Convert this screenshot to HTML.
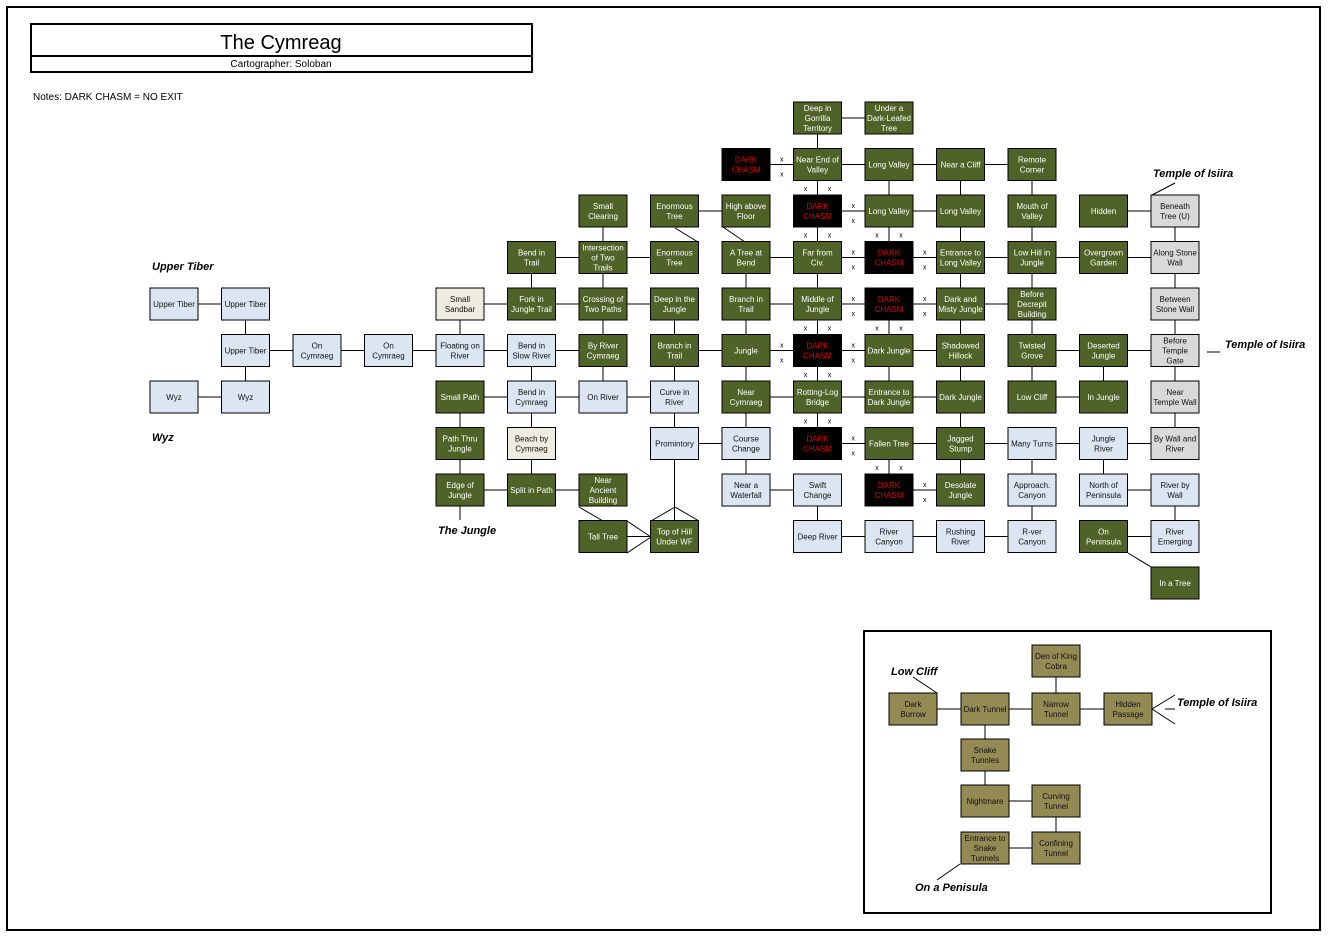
<!DOCTYPE html>
<html><head><meta charset="utf-8"><style>
html,body{margin:0;padding:0;background:#fff;}
svg{display:block;}
text{font-family:"Liberation Sans",Arial,sans-serif;}
.n text{font-size:8px;text-anchor:middle;}
.g rect{fill:#4f6228;stroke:#000;stroke-width:1}
.g text{fill:#fff}
.b rect{fill:#dce6f2;stroke:#000;stroke-width:1}
.b text{fill:#111}
.e rect{fill:#eeece1;stroke:#000;stroke-width:1}
.e text{fill:#111}
.s rect{fill:#d9d9d9;stroke:#000;stroke-width:1}
.s text{fill:#111}
.k rect{fill:#948a54;stroke:#000;stroke-width:1}
.k text{fill:#111}
.d rect{fill:#000;stroke:#000}
.d text{fill:#e00000}
.x{font-size:7px;text-anchor:middle;fill:#000}
.lab{font-size:11px;font-style:italic;font-weight:bold;fill:#000}
line{stroke:#000;stroke-width:1}
</style></head><body>
<svg width="1330" height="947" viewBox="0 0 1330 947" xmlns="http://www.w3.org/2000/svg">
<rect x="7" y="7" width="1313" height="923" fill="none" stroke="#000" stroke-width="2"/>
<rect x="31" y="24" width="501" height="48" fill="none" stroke="#000" stroke-width="2"/>
<line x1="31" y1="56" x2="532" y2="56" style="stroke-width:2"/>
<text x="281" y="49" font-size="20" text-anchor="middle">The Cymreag</text>
<text x="281" y="67" font-size="10" text-anchor="middle">Cartographer: Soloban</text>
<text x="33" y="100" font-size="10">Notes: DARK CHASM = NO EXIT</text>

<!-- edges -->
<g>
<line x1="817.5" y1="118" x2="889" y2="118"/>
<line x1="746" y1="164.5" x2="1032" y2="164.5"/>
<line x1="674.5" y1="211" x2="746" y2="211"/>
<line x1="817.5" y1="211" x2="960.5" y2="211"/>
<line x1="1103.5" y1="211" x2="1175" y2="211"/>
<line x1="531.5" y1="257.5" x2="674.5" y2="257.5"/>
<line x1="746" y1="257.5" x2="1175" y2="257.5"/>
<line x1="174" y1="304" x2="245.5" y2="304"/>
<line x1="460" y1="304" x2="674.5" y2="304"/>
<line x1="746" y1="304" x2="1032" y2="304"/>
<line x1="245.5" y1="350.5" x2="603" y2="350.5"/>
<line x1="674.5" y1="350.5" x2="960.5" y2="350.5"/>
<line x1="1032" y1="350.5" x2="1175" y2="350.5"/>
<line x1="174" y1="397" x2="245.5" y2="397"/>
<line x1="460" y1="397" x2="674.5" y2="397"/>
<line x1="746" y1="397" x2="960.5" y2="397"/>
<line x1="1032" y1="397" x2="1103.5" y2="397"/>
<line x1="674.5" y1="443.5" x2="746" y2="443.5"/>
<line x1="817.5" y1="443.5" x2="1175" y2="443.5"/>
<line x1="460" y1="490" x2="603" y2="490"/>
<line x1="746" y1="490" x2="817.5" y2="490"/>
<line x1="889" y1="490" x2="960.5" y2="490"/>
<line x1="1103.5" y1="490" x2="1175" y2="490"/>
<line x1="603" y1="536.5" x2="674.5" y2="536.5"/>
<line x1="817.5" y1="536.5" x2="1032" y2="536.5"/>
<line x1="1103.5" y1="536.5" x2="1175" y2="536.5"/>

<line x1="245.5" y1="304" x2="245.5" y2="397"/>
<line x1="460" y1="304" x2="460" y2="350.5"/>
<line x1="460" y1="397" x2="460" y2="520"/>
<line x1="531.5" y1="257.5" x2="531.5" y2="304"/>
<line x1="531.5" y1="350.5" x2="531.5" y2="490"/>
<line x1="603" y1="211" x2="603" y2="397"/>
<line x1="674.5" y1="304" x2="674.5" y2="536.5"/>
<line x1="746" y1="257.5" x2="746" y2="490"/>
<line x1="817.5" y1="118" x2="817.5" y2="443.5"/>
<line x1="817.5" y1="490" x2="817.5" y2="536.5"/>
<line x1="889" y1="164.5" x2="889" y2="257.5"/>
<line x1="889" y1="304" x2="889" y2="397"/>
<line x1="889" y1="443.5" x2="889" y2="490"/>
<line x1="960.5" y1="164.5" x2="960.5" y2="490"/>
<line x1="1032" y1="164.5" x2="1032" y2="397"/>
<line x1="1032" y1="443.5" x2="1032" y2="536.5"/>
<line x1="1103.5" y1="350.5" x2="1103.5" y2="397"/>
<line x1="1103.5" y1="443.5" x2="1103.5" y2="490"/>
<line x1="1175" y1="211" x2="1175" y2="443.5"/>
<line x1="1175" y1="490" x2="1175" y2="536.5"/>

<!-- diagonals -->
<line x1="675" y1="228" x2="698" y2="242"/>
<line x1="723" y1="227" x2="745" y2="242"/>
<line x1="579" y1="507" x2="603" y2="521"/>
<line x1="627" y1="521" x2="651" y2="537"/>
<line x1="627" y1="553" x2="651" y2="537"/>
<line x1="675" y1="507" x2="651" y2="521"/>
<line x1="675" y1="507" x2="699" y2="521"/>
<line x1="1128" y1="553" x2="1151" y2="567"/>
<line x1="1175" y1="183" x2="1152" y2="195"/>
<line x1="1207" y1="352" x2="1220" y2="352"/>
</g>

<!-- x marks -->
<g class="x">
<text class="x" x="781.75" y="161.5">x</text><text class="x" x="781.75" y="176.5">x</text>
<text class="x" x="853.25" y="208">x</text><text class="x" x="853.25" y="223">x</text>
<text class="x" x="853.25" y="254.5">x</text><text class="x" x="853.25" y="269.5">x</text>
<text class="x" x="924.75" y="254.5">x</text><text class="x" x="924.75" y="269.5">x</text>
<text class="x" x="853.25" y="301">x</text><text class="x" x="853.25" y="316">x</text>
<text class="x" x="924.75" y="301">x</text><text class="x" x="924.75" y="316">x</text>
<text class="x" x="781.75" y="347.5">x</text><text class="x" x="781.75" y="362.5">x</text>
<text class="x" x="853.25" y="347.5">x</text><text class="x" x="853.25" y="362.5">x</text>
<text class="x" x="853.25" y="440.5">x</text><text class="x" x="853.25" y="455.5">x</text>
<text class="x" x="924.75" y="487">x</text><text class="x" x="924.75" y="502">x</text>
<text class="x" x="805.5" y="190.75">x</text><text class="x" x="829.5" y="190.75">x</text>
<text class="x" x="805.5" y="237.25">x</text><text class="x" x="829.5" y="237.25">x</text>
<text class="x" x="877" y="237.25">x</text><text class="x" x="901" y="237.25">x</text>
<text class="x" x="805.5" y="330.25">x</text><text class="x" x="829.5" y="330.25">x</text>
<text class="x" x="877" y="330.25">x</text><text class="x" x="901" y="330.25">x</text>
<text class="x" x="805.5" y="376.75">x</text><text class="x" x="829.5" y="376.75">x</text>
<text class="x" x="805.5" y="423.25">x</text><text class="x" x="829.5" y="423.25">x</text>
<text class="x" x="877" y="469.75">x</text><text class="x" x="901" y="469.75">x</text>
</g>

<!-- nodes -->
<!-- r0 -->
<g class="n g" transform="translate(817.5,118)"><rect x="-24" y="-16" width="48" height="32"/><text y="-7">Deep in</text><text y="3">Gorrilla</text><text y="13">Territory</text></g>
<g class="n g" transform="translate(889,118)"><rect x="-24" y="-16" width="48" height="32"/><text y="-7">Under a</text><text y="3">Dark-Leafed</text><text y="13">Tree</text></g>
<!-- r1 -->
<g class="n d" transform="translate(746,164.5)"><rect x="-24" y="-16" width="48" height="32"/><text y="-2">DARK</text><text y="8">CHASM</text></g>
<g class="n g" transform="translate(817.5,164.5)"><rect x="-24" y="-16" width="48" height="32"/><text y="-2">Near End of</text><text y="8">Valley</text></g>
<g class="n g" transform="translate(889,164.5)"><rect x="-24" y="-16" width="48" height="32"/><text y="3">Long Valley</text></g>
<g class="n g" transform="translate(960.5,164.5)"><rect x="-24" y="-16" width="48" height="32"/><text y="3">Near a Cliff</text></g>
<g class="n g" transform="translate(1032,164.5)"><rect x="-24" y="-16" width="48" height="32"/><text y="-2">Remote</text><text y="8">Corner</text></g>
<!-- r2 -->
<g class="n g" transform="translate(603,211)"><rect x="-24" y="-16" width="48" height="32"/><text y="-2">Small</text><text y="8">Clearing</text></g>
<g class="n g" transform="translate(674.5,211)"><rect x="-24" y="-16" width="48" height="32"/><text y="-2">Enormous</text><text y="8">Tree</text></g>
<g class="n g" transform="translate(746,211)"><rect x="-24" y="-16" width="48" height="32"/><text y="-2">High above</text><text y="8">Floor</text></g>
<g class="n d" transform="translate(817.5,211)"><rect x="-24" y="-16" width="48" height="32"/><text y="-2">DARK</text><text y="8">CHASM</text></g>
<g class="n g" transform="translate(889,211)"><rect x="-24" y="-16" width="48" height="32"/><text y="3">Long Valley</text></g>
<g class="n g" transform="translate(960.5,211)"><rect x="-24" y="-16" width="48" height="32"/><text y="3">Long Valley</text></g>
<g class="n g" transform="translate(1032,211)"><rect x="-24" y="-16" width="48" height="32"/><text y="-2">Mouth of</text><text y="8">Valley</text></g>
<g class="n g" transform="translate(1103.5,211)"><rect x="-24" y="-16" width="48" height="32"/><text y="3">Hidden</text></g>
<g class="n s" transform="translate(1175,211)"><rect x="-24" y="-16" width="48" height="32"/><text y="-2">Beneath</text><text y="8">Tree (U)</text></g>
<!-- r3 -->
<g class="n g" transform="translate(531.5,257.5)"><rect x="-24" y="-16" width="48" height="32"/><text y="-2">Bend in</text><text y="8">Trail</text></g>
<g class="n g" transform="translate(603,257.5)"><rect x="-24" y="-16" width="48" height="32"/><text y="-7">Intersection</text><text y="3">of Two</text><text y="13">Trails</text></g>
<g class="n g" transform="translate(674.5,257.5)"><rect x="-24" y="-16" width="48" height="32"/><text y="-2">Enormous</text><text y="8">Tree</text></g>
<g class="n g" transform="translate(746,257.5)"><rect x="-24" y="-16" width="48" height="32"/><text y="-2">A Tree at</text><text y="8">Bend</text></g>
<g class="n g" transform="translate(817.5,257.5)"><rect x="-24" y="-16" width="48" height="32"/><text y="-2">Far from</text><text y="8">Civ.</text></g>
<g class="n d" transform="translate(889,257.5)"><rect x="-24" y="-16" width="48" height="32"/><text y="-2">DARK</text><text y="8">CHASM</text></g>
<g class="n g" transform="translate(960.5,257.5)"><rect x="-24" y="-16" width="48" height="32"/><text y="-2">Entrance to</text><text y="8">Long Valley</text></g>
<g class="n g" transform="translate(1032,257.5)"><rect x="-24" y="-16" width="48" height="32"/><text y="-2">Low Hill in</text><text y="8">Jungle</text></g>
<g class="n g" transform="translate(1103.5,257.5)"><rect x="-24" y="-16" width="48" height="32"/><text y="-2">Overgrown</text><text y="8">Garden</text></g>
<g class="n s" transform="translate(1175,257.5)"><rect x="-24" y="-16" width="48" height="32"/><text y="-2">Along Stone</text><text y="8">Wall</text></g>
<!-- r4 -->
<g class="n b" transform="translate(174,304)"><rect x="-24" y="-16" width="48" height="32"/><text y="3">Upper Tiber</text></g>
<g class="n b" transform="translate(245.5,304)"><rect x="-24" y="-16" width="48" height="32"/><text y="3">Upper Tiber</text></g>
<g class="n e" transform="translate(460,304)"><rect x="-24" y="-16" width="48" height="32"/><text y="-2">Small</text><text y="8">Sandbar</text></g>
<g class="n g" transform="translate(531.5,304)"><rect x="-24" y="-16" width="48" height="32"/><text y="-2">Fork in</text><text y="8">Jungle Trail</text></g>
<g class="n g" transform="translate(603,304)"><rect x="-24" y="-16" width="48" height="32"/><text y="-2">Crossing of</text><text y="8">Two Paths</text></g>
<g class="n g" transform="translate(674.5,304)"><rect x="-24" y="-16" width="48" height="32"/><text y="-2">Deep in the</text><text y="8">Jungle</text></g>
<g class="n g" transform="translate(746,304)"><rect x="-24" y="-16" width="48" height="32"/><text y="-2">Branch in</text><text y="8">Trail</text></g>
<g class="n g" transform="translate(817.5,304)"><rect x="-24" y="-16" width="48" height="32"/><text y="-2">Middle of</text><text y="8">Jungle</text></g>
<g class="n d" transform="translate(889,304)"><rect x="-24" y="-16" width="48" height="32"/><text y="-2">DARK</text><text y="8">CHASM</text></g>
<g class="n g" transform="translate(960.5,304)"><rect x="-24" y="-16" width="48" height="32"/><text y="-2">Dark and</text><text y="8">Misty Jungle</text></g>
<g class="n g" transform="translate(1032,304)"><rect x="-24" y="-16" width="48" height="32"/><text y="-7">Before</text><text y="3">Decrepit</text><text y="13">Building</text></g>
<g class="n s" transform="translate(1175,304)"><rect x="-24" y="-16" width="48" height="32"/><text y="-2">Between</text><text y="8">Stone Wall</text></g>
<!-- r5 -->
<g class="n b" transform="translate(245.5,350.5)"><rect x="-24" y="-16" width="48" height="32"/><text y="3">Upper Tiber</text></g>
<g class="n b" transform="translate(317,350.5)"><rect x="-24" y="-16" width="48" height="32"/><text y="-2">On</text><text y="8">Cymraeg</text></g>
<g class="n b" transform="translate(388.5,350.5)"><rect x="-24" y="-16" width="48" height="32"/><text y="-2">On</text><text y="8">Cymraeg</text></g>
<g class="n b" transform="translate(460,350.5)"><rect x="-24" y="-16" width="48" height="32"/><text y="-2">Floating on</text><text y="8">River</text></g>
<g class="n b" transform="translate(531.5,350.5)"><rect x="-24" y="-16" width="48" height="32"/><text y="-2">Bend in</text><text y="8">Slow River</text></g>
<g class="n g" transform="translate(603,350.5)"><rect x="-24" y="-16" width="48" height="32"/><text y="-2">By River</text><text y="8">Cymraeg</text></g>
<g class="n g" transform="translate(674.5,350.5)"><rect x="-24" y="-16" width="48" height="32"/><text y="-2">Branch in</text><text y="8">Trail</text></g>
<g class="n g" transform="translate(746,350.5)"><rect x="-24" y="-16" width="48" height="32"/><text y="3">Jungle</text></g>
<g class="n d" transform="translate(817.5,350.5)"><rect x="-24" y="-16" width="48" height="32"/><text y="-2">DARK</text><text y="8">CHASM</text></g>
<g class="n g" transform="translate(889,350.5)"><rect x="-24" y="-16" width="48" height="32"/><text y="3">Dark Jungle</text></g>
<g class="n g" transform="translate(960.5,350.5)"><rect x="-24" y="-16" width="48" height="32"/><text y="-2">Shadowed</text><text y="8">Hillock</text></g>
<g class="n g" transform="translate(1032,350.5)"><rect x="-24" y="-16" width="48" height="32"/><text y="-2">Twisted</text><text y="8">Grove</text></g>
<g class="n g" transform="translate(1103.5,350.5)"><rect x="-24" y="-16" width="48" height="32"/><text y="-2">Deserted</text><text y="8">Jungle</text></g>
<g class="n s" transform="translate(1175,350.5)"><rect x="-24" y="-16" width="48" height="32"/><text y="-7">Before</text><text y="3">Temple</text><text y="13">Gate</text></g>
<!-- r6 -->
<g class="n b" transform="translate(174,397)"><rect x="-24" y="-16" width="48" height="32"/><text y="3">Wyz</text></g>
<g class="n b" transform="translate(245.5,397)"><rect x="-24" y="-16" width="48" height="32"/><text y="3">Wyz</text></g>
<g class="n g" transform="translate(460,397)"><rect x="-24" y="-16" width="48" height="32"/><text y="3">Small Path</text></g>
<g class="n b" transform="translate(531.5,397)"><rect x="-24" y="-16" width="48" height="32"/><text y="-2">Bend in</text><text y="8">Cymraeg</text></g>
<g class="n b" transform="translate(603,397)"><rect x="-24" y="-16" width="48" height="32"/><text y="3">On River</text></g>
<g class="n b" transform="translate(674.5,397)"><rect x="-24" y="-16" width="48" height="32"/><text y="-2">Curve in</text><text y="8">River</text></g>
<g class="n g" transform="translate(746,397)"><rect x="-24" y="-16" width="48" height="32"/><text y="-2">Near</text><text y="8">Cymraeg</text></g>
<g class="n g" transform="translate(817.5,397)"><rect x="-24" y="-16" width="48" height="32"/><text y="-2">Rotting-Log</text><text y="8">Bridge</text></g>
<g class="n g" transform="translate(889,397)"><rect x="-24" y="-16" width="48" height="32"/><text y="-2">Entrance to</text><text y="8">Dark Jungle</text></g>
<g class="n g" transform="translate(960.5,397)"><rect x="-24" y="-16" width="48" height="32"/><text y="3">Dark Jungle</text></g>
<g class="n g" transform="translate(1032,397)"><rect x="-24" y="-16" width="48" height="32"/><text y="3">Low Cliff</text></g>
<g class="n g" transform="translate(1103.5,397)"><rect x="-24" y="-16" width="48" height="32"/><text y="3">In Jungle</text></g>
<g class="n s" transform="translate(1175,397)"><rect x="-24" y="-16" width="48" height="32"/><text y="-2">Near</text><text y="8">Temple Wall</text></g>
<!-- r7 -->
<g class="n g" transform="translate(460,443.5)"><rect x="-24" y="-16" width="48" height="32"/><text y="-2">Path Thru</text><text y="8">Jungle</text></g>
<g class="n e" transform="translate(531.5,443.5)"><rect x="-24" y="-16" width="48" height="32"/><text y="-2">Beach by</text><text y="8">Cymraeg</text></g>
<g class="n b" transform="translate(674.5,443.5)"><rect x="-24" y="-16" width="48" height="32"/><text y="3">Promintory</text></g>
<g class="n b" transform="translate(746,443.5)"><rect x="-24" y="-16" width="48" height="32"/><text y="-2">Course</text><text y="8">Change</text></g>
<g class="n d" transform="translate(817.5,443.5)"><rect x="-24" y="-16" width="48" height="32"/><text y="-2">DARK</text><text y="8">CHASM</text></g>
<g class="n g" transform="translate(889,443.5)"><rect x="-24" y="-16" width="48" height="32"/><text y="3">Fallen Tree</text></g>
<g class="n g" transform="translate(960.5,443.5)"><rect x="-24" y="-16" width="48" height="32"/><text y="-2">Jagged</text><text y="8">Stump</text></g>
<g class="n b" transform="translate(1032,443.5)"><rect x="-24" y="-16" width="48" height="32"/><text y="3">Many Turns</text></g>
<g class="n b" transform="translate(1103.5,443.5)"><rect x="-24" y="-16" width="48" height="32"/><text y="-2">Jungle</text><text y="8">River</text></g>
<g class="n s" transform="translate(1175,443.5)"><rect x="-24" y="-16" width="48" height="32"/><text y="-2">By Wall and</text><text y="8">River</text></g>
<!-- r8 -->
<g class="n g" transform="translate(460,490)"><rect x="-24" y="-16" width="48" height="32"/><text y="-2">Edge of</text><text y="8">Jungle</text></g>
<g class="n g" transform="translate(531.5,490)"><rect x="-24" y="-16" width="48" height="32"/><text y="3">Split in Path</text></g>
<g class="n g" transform="translate(603,490)"><rect x="-24" y="-16" width="48" height="32"/><text y="-7">Near</text><text y="3">Ancient</text><text y="13">Building</text></g>
<g class="n b" transform="translate(746,490)"><rect x="-24" y="-16" width="48" height="32"/><text y="-2">Near a</text><text y="8">Waterfall</text></g>
<g class="n b" transform="translate(817.5,490)"><rect x="-24" y="-16" width="48" height="32"/><text y="-2">Swift</text><text y="8">Change</text></g>
<g class="n d" transform="translate(889,490)"><rect x="-24" y="-16" width="48" height="32"/><text y="-2">DARK</text><text y="8">CHASM</text></g>
<g class="n g" transform="translate(960.5,490)"><rect x="-24" y="-16" width="48" height="32"/><text y="-2">Desolate</text><text y="8">Jungle</text></g>
<g class="n b" transform="translate(1032,490)"><rect x="-24" y="-16" width="48" height="32"/><text y="-2">Approach.</text><text y="8">Canyon</text></g>
<g class="n b" transform="translate(1103.5,490)"><rect x="-24" y="-16" width="48" height="32"/><text y="-2">North of</text><text y="8">Peninsula</text></g>
<g class="n b" transform="translate(1175,490)"><rect x="-24" y="-16" width="48" height="32"/><text y="-2">River by</text><text y="8">Wall</text></g>
<!-- r9 -->
<g class="n g" transform="translate(603,536.5)"><rect x="-24" y="-16" width="48" height="32"/><text y="3">Tall Tree</text></g>
<g class="n g" transform="translate(674.5,536.5)"><rect x="-24" y="-16" width="48" height="32"/><text y="-2">Top of Hill</text><text y="8">Under WF</text></g>
<g class="n b" transform="translate(817.5,536.5)"><rect x="-24" y="-16" width="48" height="32"/><text y="3">Deep River</text></g>
<g class="n b" transform="translate(889,536.5)"><rect x="-24" y="-16" width="48" height="32"/><text y="-2">River</text><text y="8">Canyon</text></g>
<g class="n b" transform="translate(960.5,536.5)"><rect x="-24" y="-16" width="48" height="32"/><text y="-2">Rushing</text><text y="8">River</text></g>
<g class="n b" transform="translate(1032,536.5)"><rect x="-24" y="-16" width="48" height="32"/><text y="-2">R-ver</text><text y="8">Canyon</text></g>
<g class="n g" transform="translate(1103.5,536.5)"><rect x="-24" y="-16" width="48" height="32"/><text y="-2">On</text><text y="8">Peninsula</text></g>
<g class="n b" transform="translate(1175,536.5)"><rect x="-24" y="-16" width="48" height="32"/><text y="-2">River</text><text y="8">Emerging</text></g>
<!-- r10 -->
<g class="n g" transform="translate(1175,583)"><rect x="-24" y="-16" width="48" height="32"/><text y="3">In a Tree</text></g>

<!-- labels -->
<text class="lab" x="152" y="270">Upper Tiber</text>
<text class="lab" x="152" y="441">Wyz</text>
<text class="lab" x="438" y="534">The Jungle</text>
<text class="lab" x="1153" y="177">Temple of Isiira</text>
<text class="lab" x="1225" y="348">Temple of Isiira</text>

<!-- inset -->
<rect x="864" y="631" width="407" height="282" fill="none" stroke="#000" stroke-width="2"/>
<line x1="913" y1="709" x2="1128" y2="709"/>
<line x1="1056" y1="661" x2="1056" y2="709"/>
<line x1="985" y1="709" x2="985" y2="801"/>
<line x1="985" y1="801" x2="1056" y2="801"/>
<line x1="1056" y1="801" x2="1056" y2="848"/>
<line x1="985" y1="848" x2="1056" y2="848"/>
<line x1="913" y1="677" x2="937" y2="693"/>
<line x1="1152" y1="709" x2="1175" y2="695"/>
<line x1="1152" y1="709" x2="1175" y2="724"/>
<line x1="1165" y1="709" x2="1175" y2="709"/>
<line x1="960" y1="864" x2="937" y2="880"/>
<g class="n k" transform="translate(1056,661)"><rect x="-24" y="-16" width="48" height="32"/><text y="-2">Den of King</text><text y="8">Cobra</text></g>
<g class="n k" transform="translate(913,709)"><rect x="-24" y="-16" width="48" height="32"/><text y="-2">Dark</text><text y="8">Burrow</text></g>
<g class="n k" transform="translate(985,709)"><rect x="-24" y="-16" width="48" height="32"/><text y="3">Dark Tunnel</text></g>
<g class="n k" transform="translate(1056,709)"><rect x="-24" y="-16" width="48" height="32"/><text y="-2">Narrow</text><text y="8">Tunnel</text></g>
<g class="n k" transform="translate(1128,709)"><rect x="-24" y="-16" width="48" height="32"/><text y="-2">Hidden</text><text y="8">Passage</text></g>
<g class="n k" transform="translate(985,755)"><rect x="-24" y="-16" width="48" height="32"/><text y="-2">Snake</text><text y="8">Tunnles</text></g>
<g class="n k" transform="translate(985,801)"><rect x="-24" y="-16" width="48" height="32"/><text y="3">Nightmare</text></g>
<g class="n k" transform="translate(1056,801)"><rect x="-24" y="-16" width="48" height="32"/><text y="-2">Curving</text><text y="8">Tunnel</text></g>
<g class="n k" transform="translate(985,848)"><rect x="-24" y="-16" width="48" height="32"/><text y="-7">Entrance to</text><text y="3">Snake</text><text y="13">Tunnels</text></g>
<g class="n k" transform="translate(1056,848)"><rect x="-24" y="-16" width="48" height="32"/><text y="-2">Confining</text><text y="8">Tunnel</text></g>
<text class="lab" x="891" y="675">Low Cliff</text>
<text class="lab" x="1177" y="706">Temple of Isiira</text>
<text class="lab" x="915" y="891">On a Penisula</text>
</svg>
</body></html>
